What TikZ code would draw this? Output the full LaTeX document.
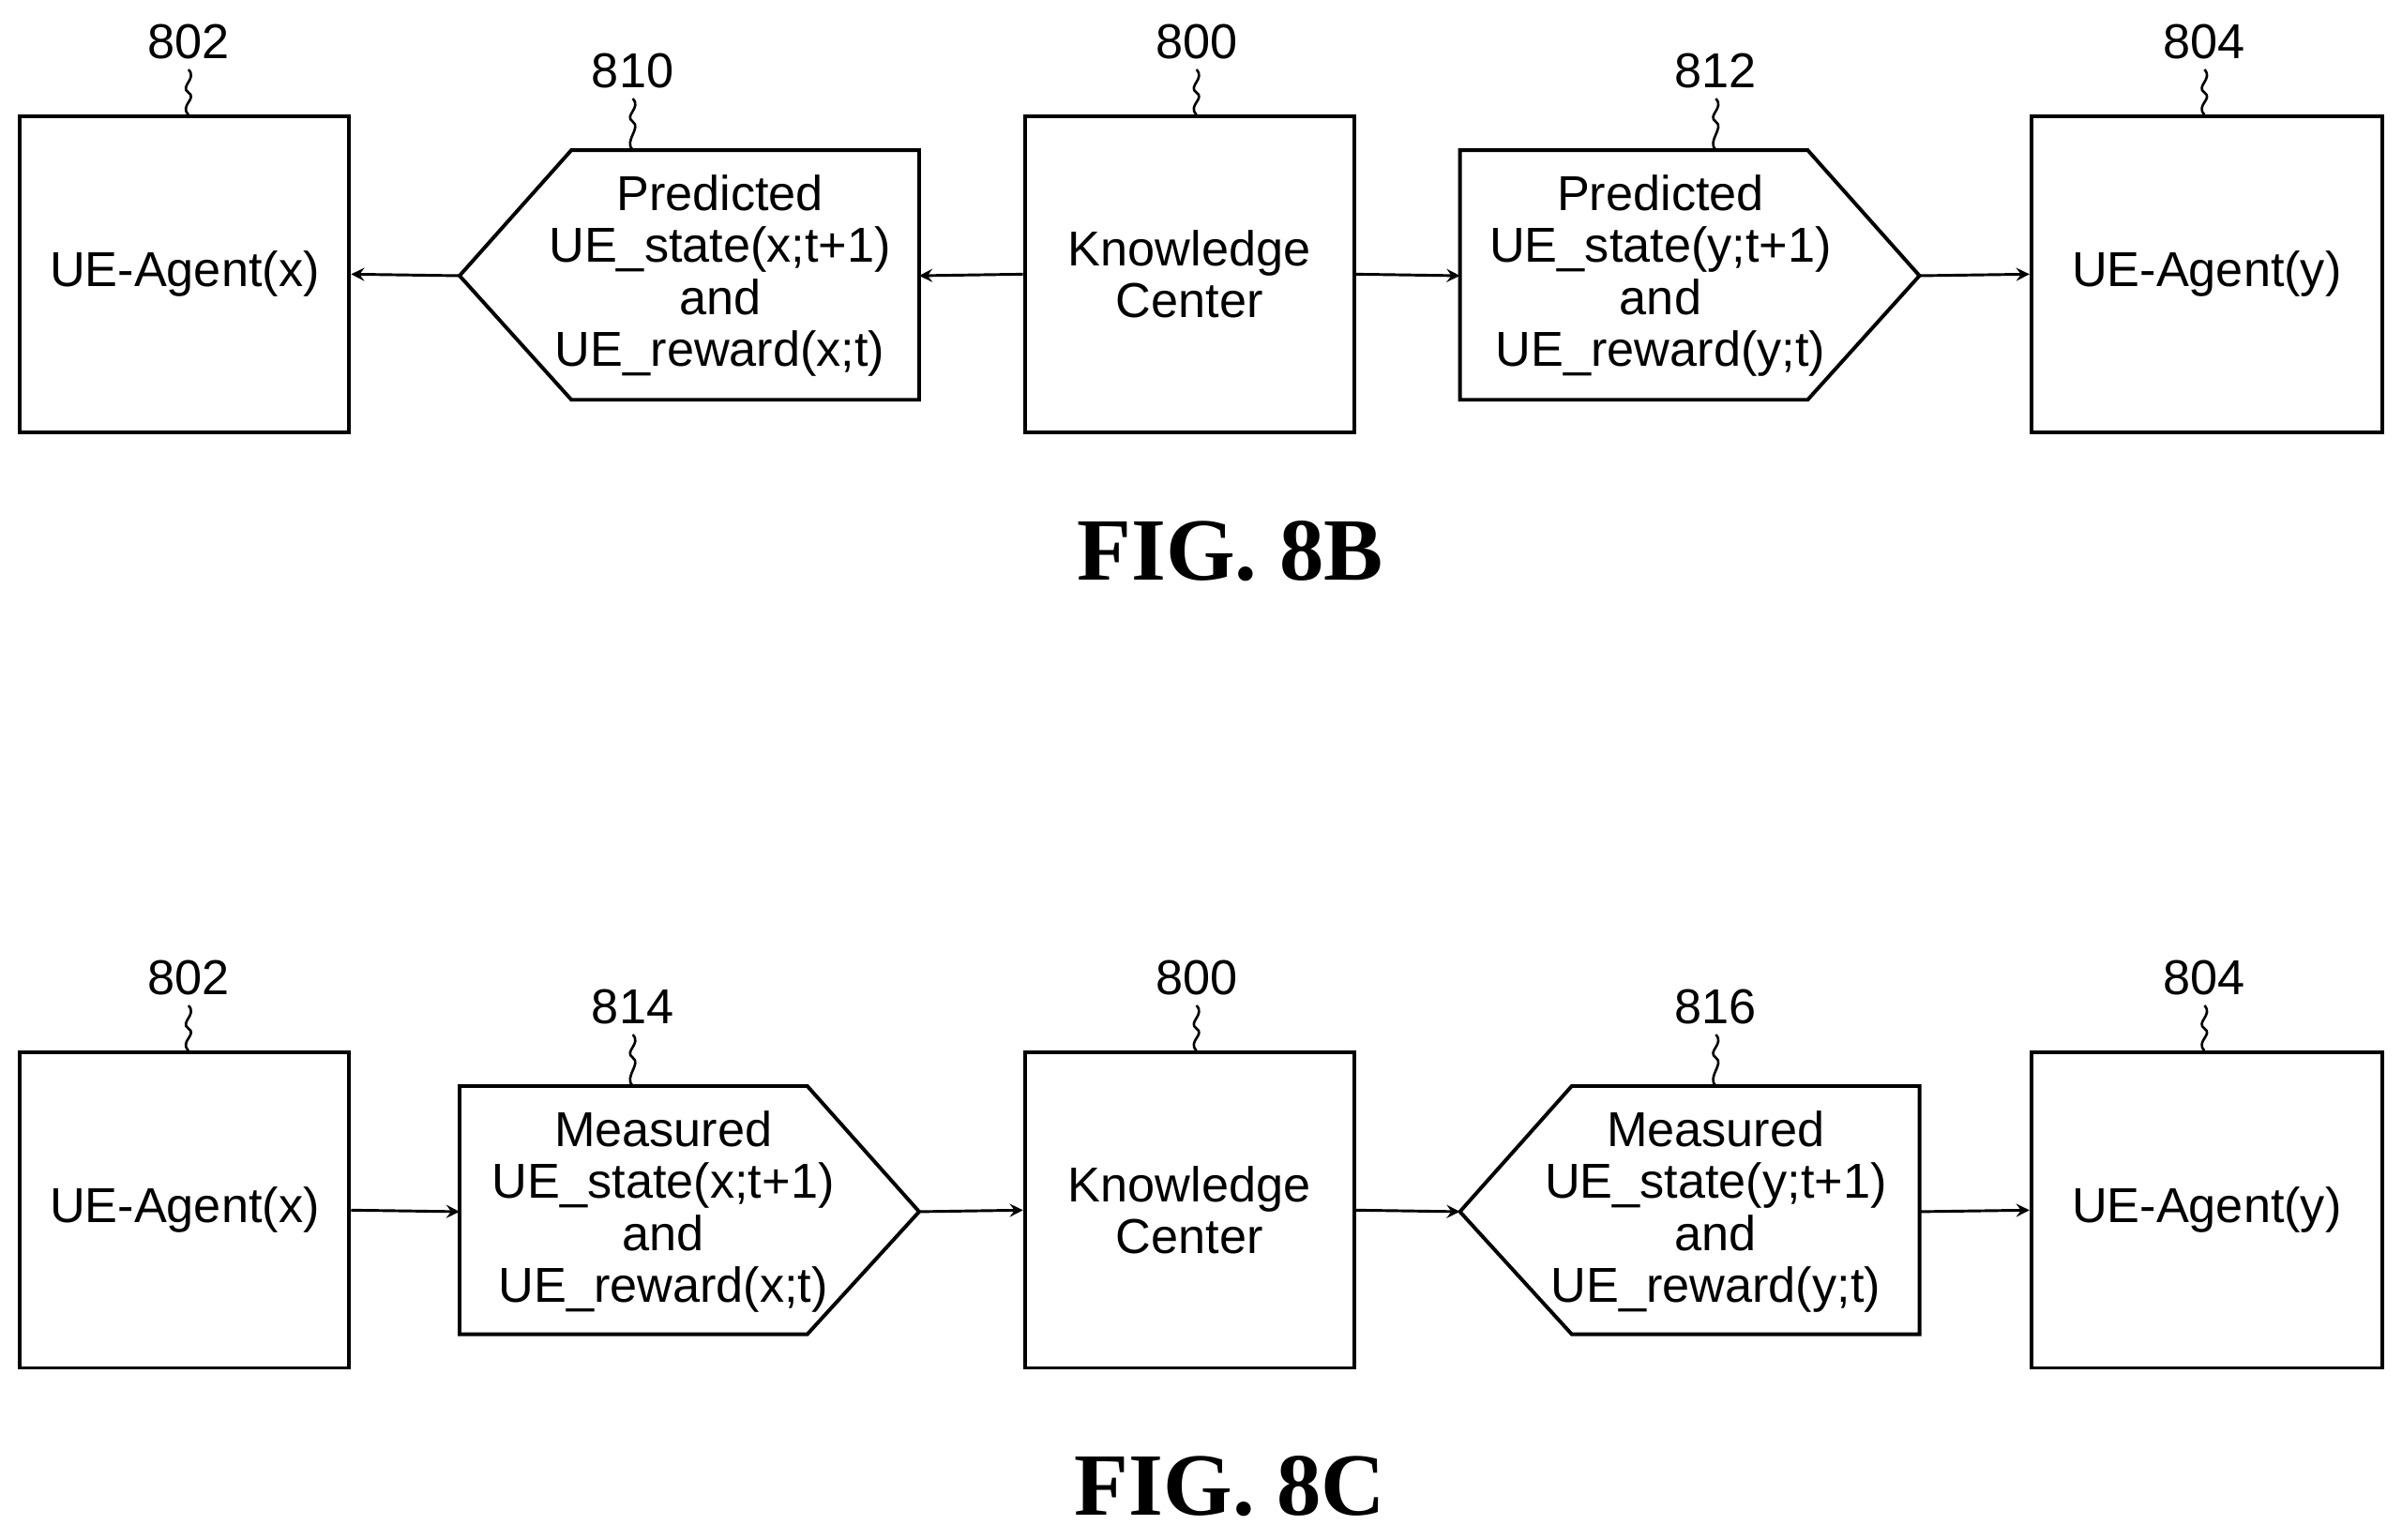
\documentclass[tikz,border=0pt]{standalone}
\usepackage{fontspec}
\setmainfont{Liberation Sans}
\newfontfamily\figfont{Liberation Serif}
\begin{document}
\begin{tikzpicture}[x=0.5pt,y=-0.5pt,
  box/.style={draw,line width=1.2pt,minimum width=107.5pt,minimum height=103pt,inner sep=0pt,font=\fontsize{16}{17}\selectfont,align=center},
  shp/.style={draw,line width=1.2pt,line join=miter},
  txt/.style={font=\fontsize{16}{17}\selectfont,align=center},
  lab/.style={font=\fontsize{16}{17}\selectfont},
  arr/.style={-stealth,line width=0.9pt},
  sq/.style={line width=0.8pt},
  fig/.style={font=\figfont\bfseries\fontsize{29}{30}\selectfont}]
\useasboundingbox (0,0) rectangle (1568,1005);
\foreach \s/\dy in {B/0,C/611}{
\begin{scope}[yshift=-\dy*0.5pt]
\node[box] (a\s) at (120.5,179) {UE-Agent(x)};
\node[box] (k\s) at (776.5,179) {Knowledge\\Center};
\node[box,minimum width=114.5pt] (b\s) at (1440.5,179) {UE-Agent(y)};
\node[lab] (la\s) at (123,27) {802};
\node[lab] (lk\s) at (781,27) {800};
\node[lab] (lb\s) at (1439,27) {804};
\foreach \n/\m in {la/a,lk/k,lb/b}{
  \draw[sq] (\n\s.south) .. controls +(6,6) and +(-6,-4) .. ++(0,15) .. controls +(6,4) and +(-6,-6) .. (\n\s.south |- \m\s.north);}
\end{scope}}
% 8B
\draw[shp] (300,180) coordinate (p1) -- (373,98) -- (600,98) -- (600,261) -- (373,261) -- cycle;
\coordinate (p1r) at (600,180);
\node[txt] (t1) at (470,180) {Predicted\\UE\_state(x;t+1)\\and\\UE\_reward(x;t)};
\node[lab] (l1) at (413,46) {810};
\draw[sq] (l1.south) .. controls +(6,6) and +(-6,-4) .. ++(0,15) .. controls +(6,4) and +(-6,-6) .. (413,98);
\draw[shp] (953,98) -- (1180,98) -- (1253,180) coordinate (p2r) -- (1180,261) -- (953,261) -- cycle;
\coordinate (p2l) at (953,180);
\node[txt] (t2) at (1084,180) {Predicted\\UE\_state(y;t+1)\\and\\UE\_reward(y;t)};
\node[lab] (l2) at (1120,46) {812};
\draw[sq] (l2.south) .. controls +(6,6) and +(-6,-4) .. ++(0,15) .. controls +(6,4) and +(-6,-6) .. (1120,98);
\draw[arr] (kB.west) -- (p1r);
\draw[arr] (p1) -- (aB.east);
\draw[arr] (kB.east) -- (p2l);
\draw[arr] (p2r) -- (bB.west);
\node[fig] (fb) at (803,360) {FIG. 8B};
% 8C
\draw[shp] (300,709) coordinate (q1t) -- (527,709) -- (600,791) coordinate (q1r) -- (527,871) -- (300,871) -- cycle;
\coordinate (q1l) at (300,791);
\node[txt] (t3) at (433,791) {Measured\\UE\_state(x;t+1)\\and\\UE\_reward(x;t)};
\node[lab] (l3) at (413,657) {814};
\draw[sq] (l3.south) .. controls +(6,6) and +(-6,-4) .. ++(0,15) .. controls +(6,4) and +(-6,-6) .. (413,709);
\draw[shp] (953,791) coordinate (q2l) -- (1026,709) -- (1253,709) -- (1253,871) -- (1026,871) -- cycle;
\coordinate (q2r) at (1253,791);
\node[txt] (t4) at (1120,791) {Measured\\UE\_state(y;t+1)\\and\\UE\_reward(y;t)};
\node[lab] (l4) at (1120,657) {816};
\draw[sq] (l4.south) .. controls +(6,6) and +(-6,-4) .. ++(0,15) .. controls +(6,4) and +(-6,-6) .. (1120,709);
\draw[arr] (aC.east) -- (q1l);
\draw[arr] (q1r) -- (kC.west);
\draw[arr] (kC.east) -- (q2l);
\draw[arr] (q2r) -- (bC.west);
\node[fig] (fc) at (803,970) {FIG. 8C};
\end{tikzpicture}
\end{document}
